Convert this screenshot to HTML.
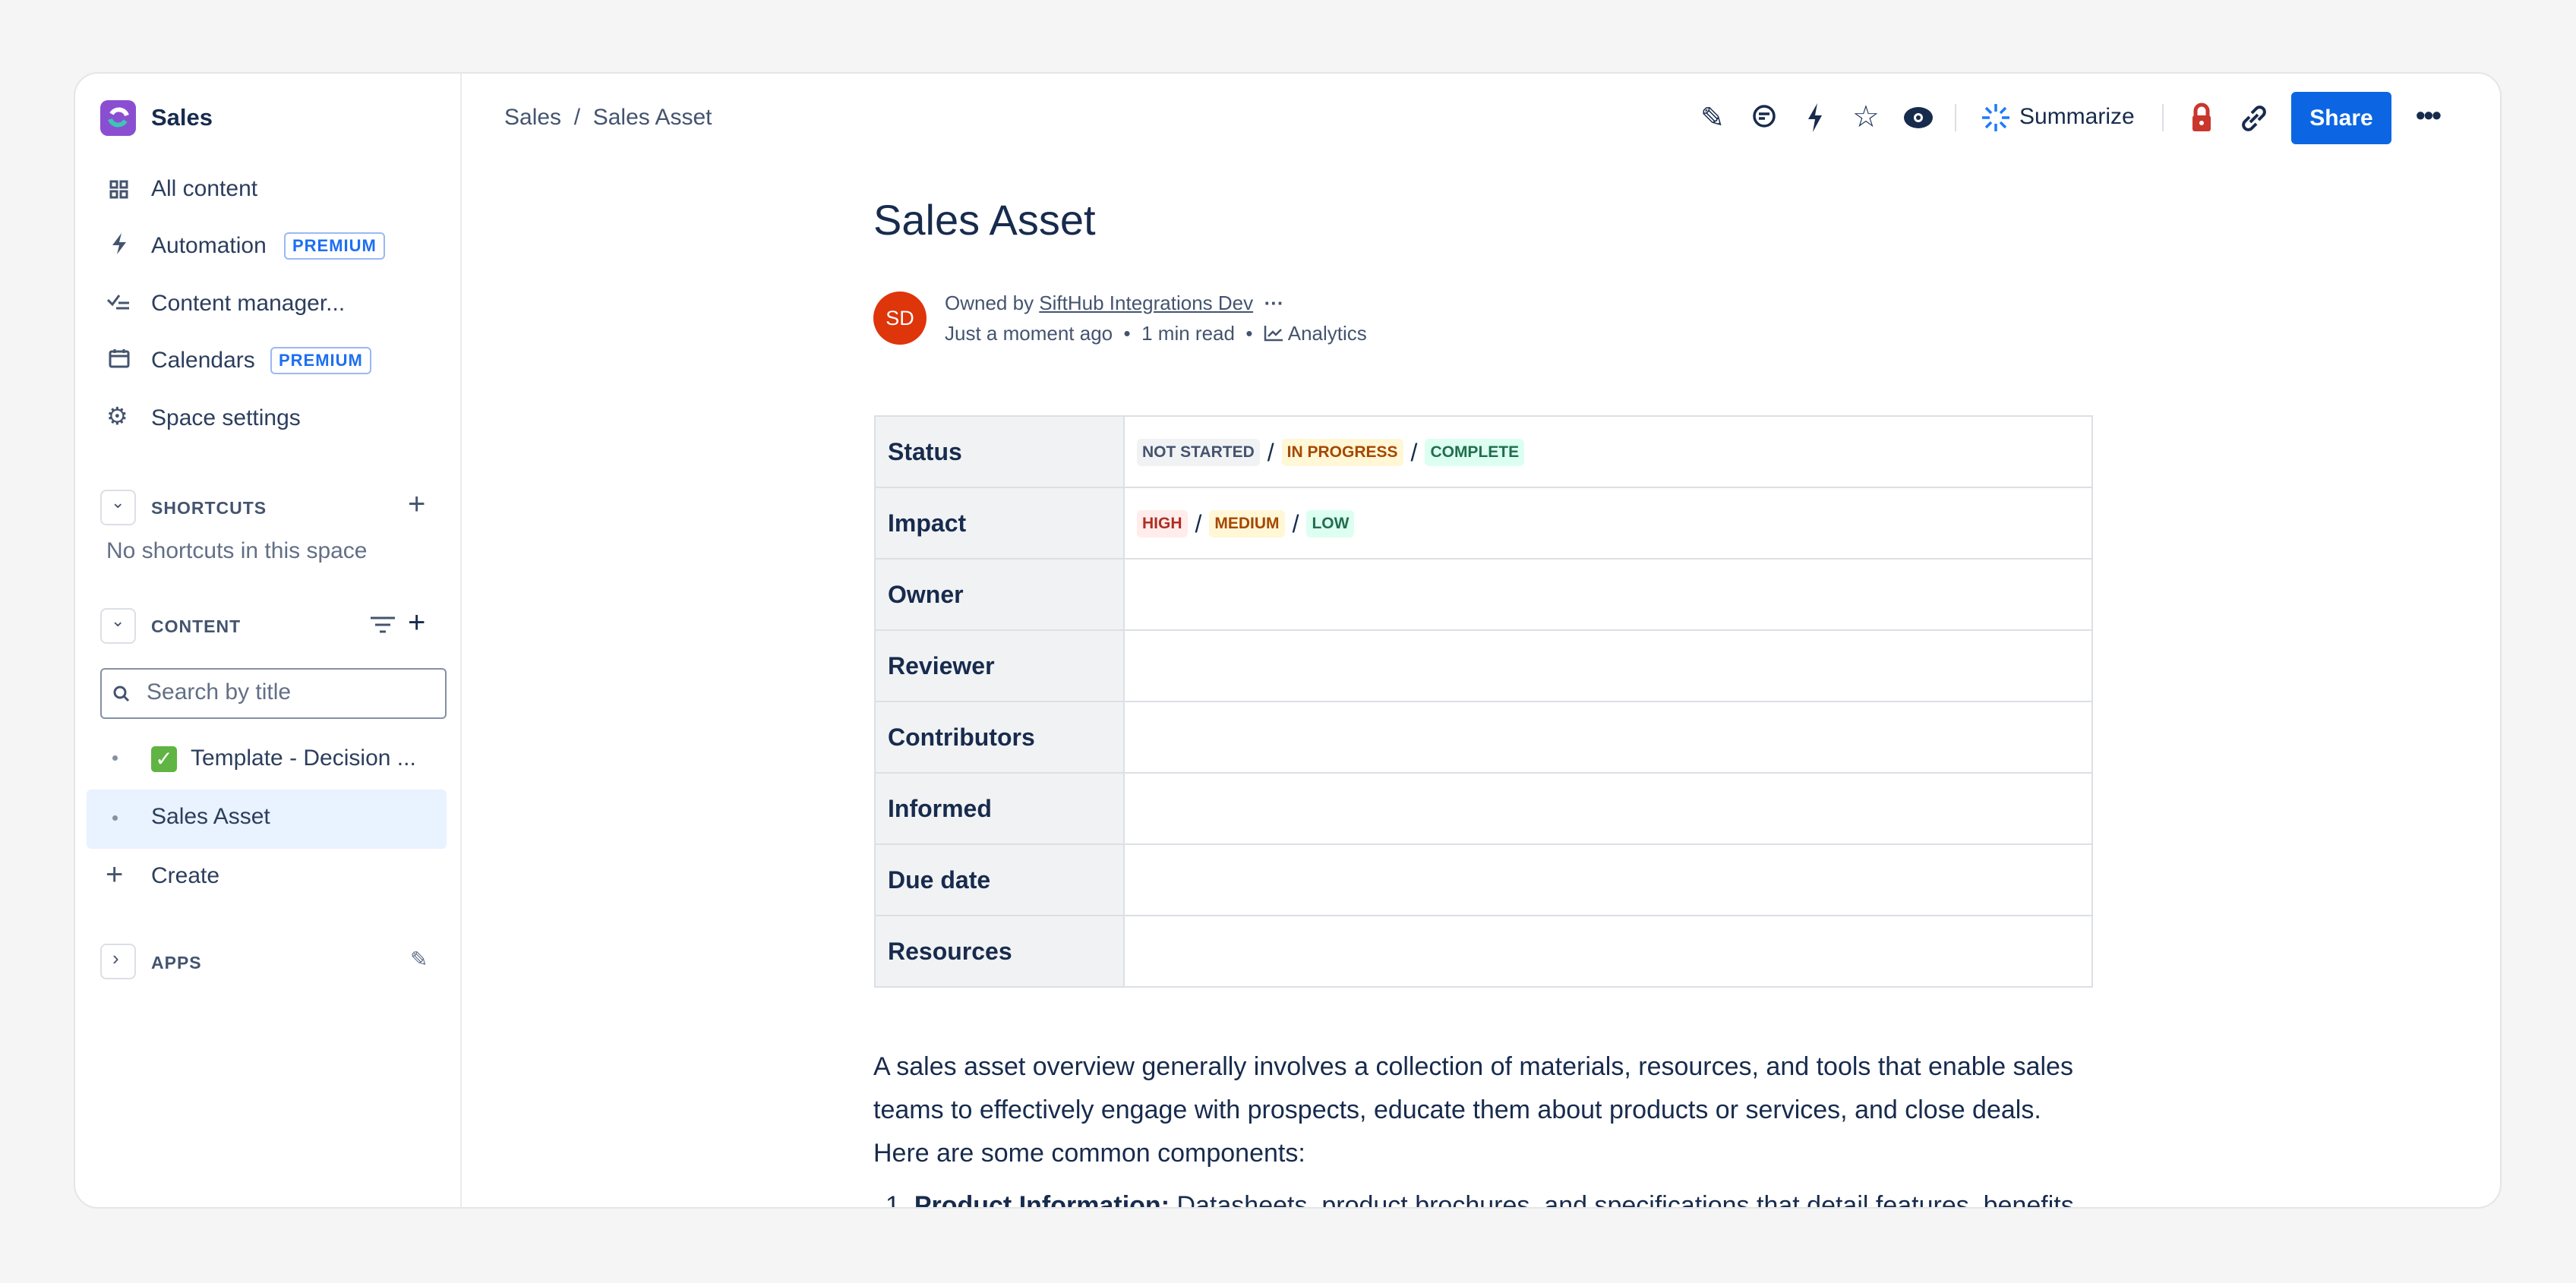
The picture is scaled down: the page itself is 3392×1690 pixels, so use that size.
<!DOCTYPE html>
<html><head><meta charset="utf-8"><style>
*{margin:0;padding:0;box-sizing:border-box}
body{width:3392px;height:1690px;background:#f5f5f5;font-family:"Liberation Sans",sans-serif;color:#172b4d;position:relative;overflow:hidden}
.card{position:absolute;left:97px;top:95px;width:3197px;height:1497px;background:#fff;border:2px solid #e4e5e7;border-radius:32px;overflow:hidden}
.a{position:absolute;white-space:nowrap}
.nav{font-size:30px;color:#2c3e5d}
.lab{font-size:23px;font-weight:bold;color:#44546f;letter-spacing:1px}
.prem{position:absolute;font-size:22px;font-weight:bold;color:#1d6ff2;border:2px solid #9bb8f5;border-radius:6px;padding:3px 9px;letter-spacing:1px}
.box{position:absolute;width:47px;height:47px;border:2px solid #dcdfe4;border-radius:8px}
table{position:absolute;left:1052px;top:450px;width:1605px;border-collapse:collapse}
td{border:2px solid #dcdfe4;height:94px;font-size:32px}
td.h{background:#f1f2f4;font-weight:bold;width:328px;padding-left:16px;color:#172b4d}
td.v{padding-left:16px}
.lz{display:inline-block;font-size:21px;font-weight:bold;padding:6px 7px;border-radius:6px;vertical-align:middle}
.sl{font-size:32px;margin:0 10px;vertical-align:middle}
p{font-size:34px;line-height:57px;color:#172b4d}
.ic{position:absolute}
</style></head><body>
<div class="card">
<div class="a" style="left:507px;top:0;width:2px;height:1497px;background:#e9eaed"></div>
<div class="a" style="left:33px;top:35px;width:47px;height:47px;border-radius:10px;background:#8a4fd0"></div>
<svg class="ic" style="left:38px;top:40px" width="37" height="37" viewBox="0 0 37 37"><path d="M8 20 a11 11 0 0 0 20 2" stroke="#3ec5b5" stroke-width="6" fill="none"/><path d="M10 13 a11 11 0 0 1 20 2" stroke="#fff" stroke-width="6" fill="none"/></svg>
<div class="a" style="left:100px;top:40px;font-size:31px;font-weight:bold;color:#172b4d">Sales</div>

<svg class="ic" style="left:45px;top:140px" width="26" height="26"><g fill="none" stroke="#44546f" stroke-width="3"><rect x="2" y="2" width="8" height="8"/><rect x="15" y="2" width="8" height="8"/><rect x="2" y="15" width="8" height="8"/><rect x="15" y="15" width="8" height="8"/></g></svg>
<div class="a nav" style="left:100px;top:135px">All content</div>
<svg class="ic" style="left:46px;top:209px" width="24" height="30"><path d="M15 1 L3 17 H12 L9 29 L21 13 H12 Z" fill="#44546f"/></svg>
<div class="a nav" style="left:100px;top:210px">Automation</div>
<div class="prem" style="left:275px;top:209px">PREMIUM</div>
<svg class="ic" style="left:42px;top:290px" width="30" height="22"><g fill="none" stroke="#44546f" stroke-width="3"><path d="M1 8 l6 6 l9 -12"/><path d="M15 12h14M12 19h17"/></g></svg>
<div class="a nav" style="left:100px;top:286px">Content manager...</div>
<svg class="ic" style="left:44px;top:362px" width="28" height="26"><g fill="none" stroke="#44546f" stroke-width="3"><rect x="2" y="4" width="24" height="20" rx="2"/><path d="M2 10h24M8 1v5M20 1v5"/></g></svg>
<div class="a nav" style="left:100px;top:361px">Calendars</div>
<div class="prem" style="left:257px;top:360px">PREMIUM</div>
<div class="a" style="left:41px;top:432px;font-size:32px;color:#44546f">⚙</div>
<div class="a nav" style="left:100px;top:437px">Space settings</div>

<div class="box" style="left:33px;top:548px"></div>
<div class="a" style="left:47px;top:552px;font-size:22px;color:#44546f">⌄</div>
<div class="a lab" style="left:100px;top:559px">SHORTCUTS</div>
<div class="a" style="left:438px;top:545px;font-size:40px;color:#44546f">+</div>
<div class="a nav" style="left:41px;top:612px;color:#626f86">No shortcuts in this space</div>

<div class="box" style="left:33px;top:704px"></div>
<div class="a" style="left:47px;top:708px;font-size:22px;color:#44546f">⌄</div>
<div class="a lab" style="left:100px;top:715px">CONTENT</div>
<svg class="ic" style="left:389px;top:714px" width="32" height="24"><g stroke="#44546f" stroke-width="3"><path d="M0 3h32M6 12h20M12 21h8"/></g></svg>
<div class="a" style="left:438px;top:701px;font-size:40px;color:#172b4d">+</div>

<div class="a" style="left:33px;top:783px;width:456px;height:67px;border:2px solid #8590a2;border-radius:6px"></div>
<svg class="ic" style="left:50px;top:806px" width="22" height="22"><g fill="none" stroke="#44546f" stroke-width="3"><circle cx="9" cy="9" r="7"/><path d="M14 14l6 6"/></g></svg>
<div class="a nav" style="left:94px;top:798px;color:#626f86">Search by title</div>

<div class="a" style="left:49px;top:898px;width:7px;height:7px;border-radius:50%;background:#8590a2"></div>
<div class="a" style="left:100px;top:886px;width:34px;height:34px;background:#5fb443;border-radius:5px;color:#fff;font-size:28px;text-align:center;line-height:34px">✓</div>
<div class="a nav" style="left:152px;top:885px">Template - Decision ...</div>

<div class="a" style="left:15px;top:943px;width:474px;height:78px;background:#e9f2ff;border-radius:6px"></div>
<div class="a" style="left:49px;top:977px;width:7px;height:7px;border-radius:50%;background:#8590a2"></div>
<div class="a nav" style="left:100px;top:962px">Sales Asset</div>

<div class="a" style="left:40px;top:1033px;font-size:40px;color:#44546f">+</div>
<div class="a nav" style="left:100px;top:1040px">Create</div>

<div class="box" style="left:33px;top:1146px"></div>
<div class="a" style="left:49px;top:1150px;font-size:26px;color:#44546f">›</div>
<div class="a lab" style="left:100px;top:1158px">APPS</div>
<div class="a" style="left:441px;top:1150px;font-size:28px;color:#626f86">✎</div>

<div class="a" style="left:565px;top:41px;font-size:30px;color:#44546f">Sales &nbsp;/&nbsp; Sales Asset</div>
<div class="a" style="left:2140px;top:36px;font-size:38px;color:#172b4d">✎</div>
<svg class="ic" style="left:2207px;top:40px" width="34" height="36"><g fill="none" stroke="#172b4d" stroke-width="3.5"><circle cx="17" cy="16" r="13"/><path d="M10 13h14M10 19h8"/></g></svg>
<svg class="ic" style="left:2279px;top:38px" width="24" height="40"><path d="M15 1 L3 22 H12 L9 39 L21 17 H12 Z" fill="#172b4d"/></svg>
<div class="a" style="left:2340px;top:34px;font-size:40px;color:#172b4d">☆</div>
<svg class="ic" style="left:2407px;top:43px" width="40" height="30"><ellipse cx="20" cy="15" rx="19" ry="14" fill="#172b4d"/><circle cx="20" cy="15" r="6" fill="#fff"/><circle cx="20" cy="15" r="3" fill="#172b4d"/></svg>
<div class="a" style="left:2475px;top:40px;width:2px;height:36px;background:#dcdfe4"></div>
<svg class="ic" style="left:2509px;top:38px" width="40" height="40"><g stroke="#1d7afc" stroke-width="3.5"><path d="M20 2v10M20 28v10M2 20h10M28 20h10M7 7l7 7M26 26l7 7M33 7l-7 7M14 26l-7 7"/></g></svg>
<div class="a" style="left:2560px;top:40px;font-size:30px;color:#172b4d">Summarize</div>
<div class="a" style="left:2748px;top:40px;width:2px;height:36px;background:#dcdfe4"></div>
<svg class="ic" style="left:2785px;top:38px" width="30" height="40"><path d="M7 18v-7a8 8 0 0 1 16 0v7" fill="none" stroke="#c9372c" stroke-width="5"/><rect x="3" y="17" width="24" height="21" rx="3" fill="#c9372c"/><circle cx="15" cy="27" r="3" fill="#fff"/></svg>
<svg class="ic" style="left:2849px;top:39px" width="40" height="40"><g fill="none" stroke="#172b4d" stroke-width="4"><path d="M17 13l6-6a6 6 0 0 1 9 9l-6 6"/><path d="M23 27l-6 6a6 6 0 0 1 -9 -9l6 -6"/><path d="M15 25l10 -10"/></g></svg>
<div class="a" style="left:2918px;top:24px;width:132px;height:69px;background:#0c66e4;border-radius:6px;color:#fff;font-size:30px;font-weight:bold;text-align:center;line-height:69px">Share</div>
<div class="a" style="left:3082px;top:34px;font-size:36px;font-weight:bold;color:#172b4d;letter-spacing:-2px">•••</div>

<div class="a" style="left:1051px;top:160px;font-size:56px;color:#172b4d">Sales Asset</div>
<div class="a" style="left:1051px;top:287px;width:70px;height:70px;border-radius:50%;background:#de350b;color:#fff;font-size:27px;text-align:center;line-height:70px">SD</div>
<div class="a" style="left:1145px;top:287px;font-size:26px;color:#44546f">Owned by <span style="text-decoration:underline">SiftHub Integrations Dev</span> &nbsp;<b>···</b></div>
<div class="a" style="left:1145px;top:327px;font-size:26px;color:#44546f">Just a moment ago &nbsp;•&nbsp; 1 min read &nbsp;•&nbsp; <svg width="26" height="22" style="vertical-align:-2px"><g fill="none" stroke="#44546f" stroke-width="2.5"><path d="M2 1v19h23"/><path d="M6 15l6-6 4 4 7-7"/></g></svg> Analytics</div>

<table>
<tr><td class="h">Status</td><td class="v"><span class="lz" style="background:#f1f2f4;color:#44546f">NOT STARTED</span><span class="sl">/</span><span class="lz" style="background:#fff7d6;color:#a54800">IN PROGRESS</span><span class="sl">/</span><span class="lz" style="background:#dcfff1;color:#216e4e">COMPLETE</span></td></tr>
<tr><td class="h">Impact</td><td class="v"><span class="lz" style="background:#ffeceb;color:#ae2e24">HIGH</span><span class="sl">/</span><span class="lz" style="background:#fff7d6;color:#a54800">MEDIUM</span><span class="sl">/</span><span class="lz" style="background:#dcfff1;color:#216e4e">LOW</span></td></tr>
<tr><td class="h">Owner</td><td></td></tr>
<tr><td class="h">Reviewer</td><td></td></tr>
<tr><td class="h">Contributors</td><td></td></tr>
<tr><td class="h">Informed</td><td></td></tr>
<tr><td class="h">Due date</td><td></td></tr>
<tr><td class="h">Resources</td><td></td></tr>
</table>

<div class="a" style="left:1051px;top:1280px;white-space:nowrap">
<p>A sales asset overview generally involves a collection of materials, resources, and tools that enable sales<br>teams to effectively engage with prospects, educate them about products or services, and close deals.<br>Here are some common components:</p>
<p style="margin-top:12px;padding-left:16px">1. <b>Product Information:</b> Datasheets, product brochures, and specifications that detail features, benefits</p>
</div>
</div>
</body></html>
